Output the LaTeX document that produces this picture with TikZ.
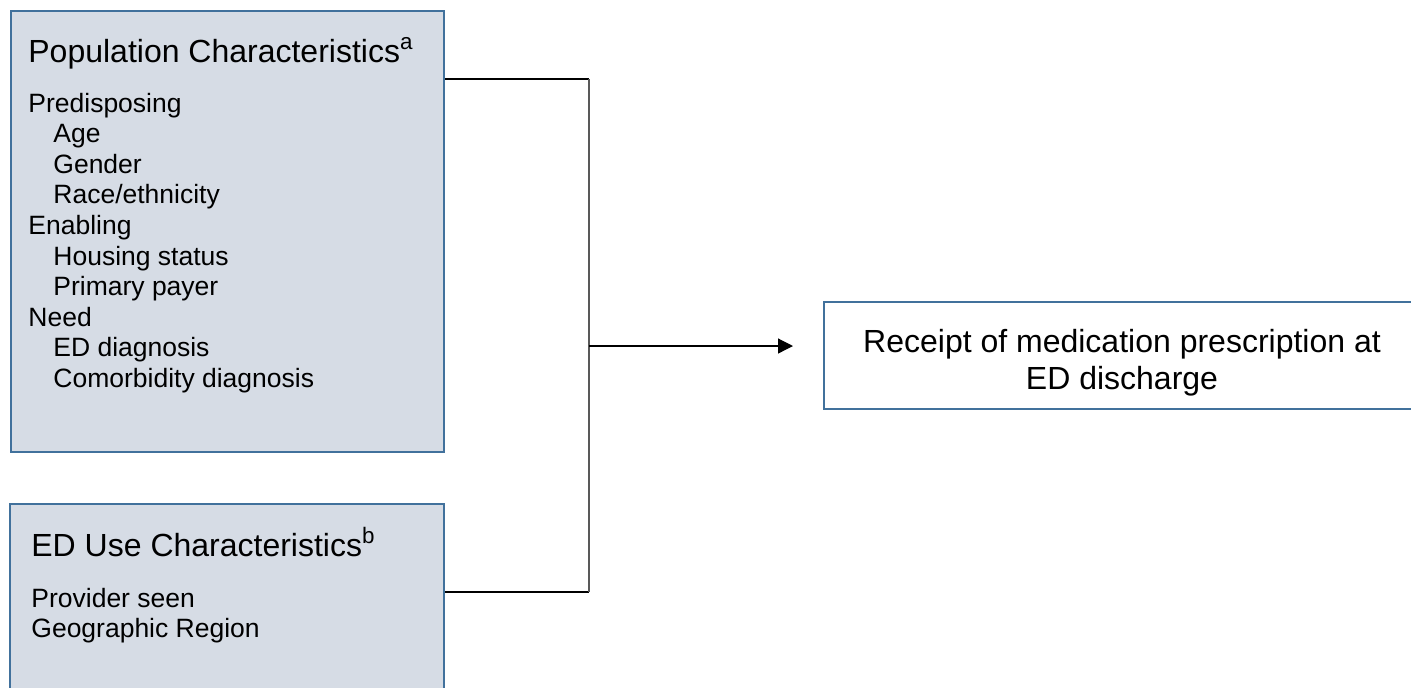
\documentclass[tikz,border=0pt]{standalone}
\usepackage{fontspec}
\setmainfont{Liberation Sans}
\usepackage{tikz}
\usetikzlibrary{arrows.meta, positioning, calc}
\usepackage{xcolor}
\definecolor{pfill}{RGB}{214,220,229}
\definecolor{pedge}{RGB}{65,113,156}
\definecolor{jgray}{RGB}{89,89,89}

\newcommand{\ind}{\hspace*{12.5pt}}

\begin{document}
\begin{tikzpicture}[x=0.5pt, y=-0.5pt,
                    panel/.style={draw=pedge,line width=1pt,fill=pfill,anchor=north west,inner sep=0pt},
                    outbox/.style={draw=pedge,line width=1pt,fill=white,anchor=north west,inner sep=0pt},
                    outtext/.style={anchor=base,inner sep=0pt,align=center,font=\fontsize{16}{18.4}\selectfont},
                    head/.style={anchor=base west,inner sep=0pt,font=\fontsize{16}{18.4}\selectfont},
                    items/.style={anchor=base west,inner sep=0pt,align=left,font=\fontsize{13.25}{15.3}\selectfont},
                    link/.style={black,line width=0.6pt},
                    arr/.style={-{Triangle[length=7.5pt,width=7.5pt]},black,line width=0.6pt}
]
\useasboundingbox (0,0) rectangle (1411,687);
\node[panel,minimum width=216.5pt,minimum height=220.5pt] (pop) at (10,10) {};
\node[panel,minimum width=217pt,minimum height=98.5pt] (eduse) at (9,503) {};
\node[outbox,minimum width=299pt,minimum height=53.5pt] (rx) at (823,301) {};
\node[outtext] (rxtext) at (1122,389) {Receipt of medication prescription at\\ED discharge};

% text lines sit on the baseline of their last line
\node[head] (pophead) at (28,62) {Population Characteristics\textsuperscript{a}};
\node[items] (poplist) at (28,387.4) {Predisposing\\\ind Age\\\ind Gender\\\ind Race/ethnicity\\
      Enabling\\\ind Housing status\\\ind Primary payer\\Need\\\ind ED diagnosis\\\ind Comorbidity diagnosis};
\node[head] (edhead) at (31,556) {ED Use Characteristics\textsuperscript{b}};
\node[items] (edlist) at (31,637.6) {Provider seen\\Geographic Region};

\coordinate (jtop) at (589,79);
\coordinate (jbot) at (589,592);
\coordinate (jmid) at (589,346);
\coordinate (tip) at (793,346);
\draw[link] (pop.east |- jtop) -- (jtop);
\draw[link] (eduse.east |- jbot) -- (jbot);
\draw[jgray,line width=1pt] (jtop) -- (jbot);
\draw[arr] (jmid) -- (tip);
\end{tikzpicture}
\end{document}
